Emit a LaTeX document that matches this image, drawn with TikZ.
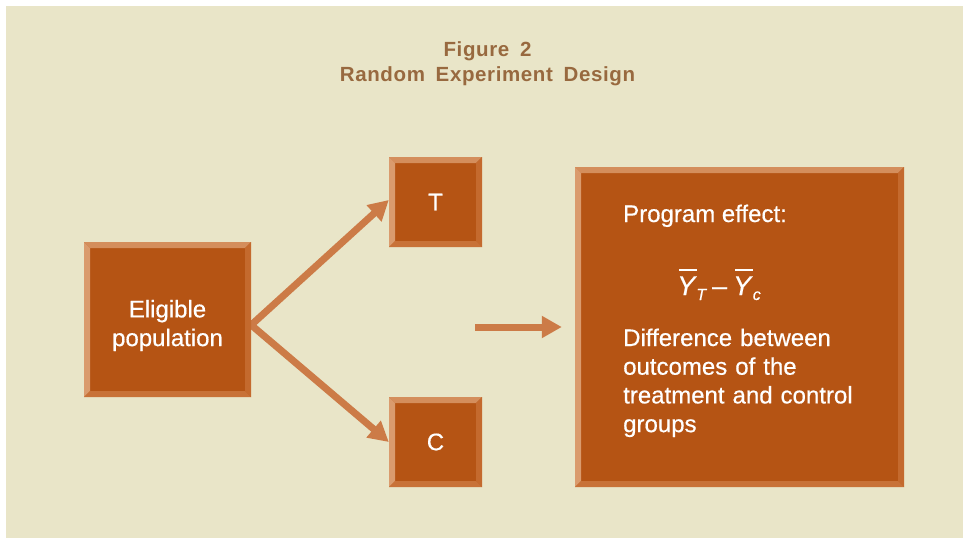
\documentclass[tikz,border=0pt]{standalone}
\usepackage{fontspec}
\setmainfont{Liberation Sans}
\newfontfamily\boxfont[FakeBold=0.5]{Liberation Sans}
\newfontfamily\titlefont[WordSpace=1.7,LetterSpace=3]{Liberation Sans}
\usetikzlibrary{arrows.meta,calc}
\definecolor{bgc}{HTML}{E9E5C8}
\definecolor{boxc}{HTML}{B55414}
\definecolor{bevtopc}{HTML}{D48E5C}
\definecolor{bevleftc}{HTML}{DA9B6D}
\definecolor{bevrightc}{HTML}{C46A2E}
\definecolor{bevbotc}{HTML}{C87238}
\definecolor{arrc}{HTML}{CC7B47}
\definecolor{titlec}{HTML}{98693F}
\pgfdeclarelayer{back}\pgfdeclarelayer{mid}
\pgfsetlayers{back,mid,main}
\newcommand\ovY{\makebox[0pt][l]{\hspace{2pt}\rule[24pt]{18pt}{1.6pt}}\textit{Y}}
\newcommand\subsc[1]{\raisebox{-5pt}{\fontsize{16}{16}\selectfont\itshape #1}}
\tikzset{
  bevbox/.style={fill=boxc, inner sep=0pt, text=white, align=center,
    font=\boxfont\fontsize{24}{29}\selectfont,
    path picture={
      \path (path picture bounding box.south west) coordinate (pa)
            (path picture bounding box.north east) coordinate (pb);
      \fill[bevtopc] (pa|-pb) -- (pb) -- ($(pb)+(-6pt,-6pt)$) -- ($(pa|-pb)+(6pt,-6pt)$) -- cycle;
      \fill[bevleftc] (pa|-pb) -- (pa) -- ($(pa)+(6pt,6pt)$) -- ($(pa|-pb)+(6pt,-6pt)$) -- cycle;
      \fill[bevrightc] (pb) -- (pb|-pa) -- ($(pb|-pa)+(-6pt,6pt)$) -- ($(pb)+(-6pt,-6pt)$) -- cycle;
      \fill[bevbotc] (pa) -- (pb|-pa) -- ($(pb|-pa)+(-6pt,6pt)$) -- ($(pa)+(6pt,6pt)$) -- cycle;
    }},
  txt/.style={text=white, inner sep=0pt, font=\boxfont\fontsize{24}{28.7}\selectfont},
  arr/.style={draw=arrc, line width=7pt, -{Triangle[length=20pt,width=21pt]}},
}
\begin{document}
\begin{tikzpicture}[x=1pt,y=-1pt]
\useasboundingbox (0,0) rectangle (963,538);
\begin{pgfonlayer}{back}
  \fill[white] (0,0) rectangle (963,538);
  \fill[bgc] (6,6) rectangle (963,538);
\end{pgfonlayer}

\node[font=\titlefont\bfseries\fontsize{20.5}{25}\selectfont, text=titlec, align=center, inner sep=0pt, anchor=base] (title) at (487.5,81.7) {Figure 2\\Random Experiment Design};

\node[bevbox, minimum width=167pt, minimum height=155pt] (elig) at (167.5,319.5) {};
\node[txt, align=center] (eligtxt) at ([yshift=-6pt]elig.center) {Eligible\\population};
\node[bevbox, minimum width=93pt, minimum height=90pt] (T) at (435.5,202) {T};
\node[bevbox, minimum width=93pt, minimum height=90pt] (C) at (435.5,442) {C};
\node[bevbox, minimum width=329pt, minimum height=320pt] (big) at (739.5,327) {};

\node[txt, anchor=base west] (eff) at (623,222) {Program effect:};
\node[txt, anchor=base west, font=\boxfont\fontsize{27}{30}\selectfont] (form) at (677,295) {\ovY\kern-0.5pt\subsc{T}\hspace{6pt}–\hspace{6pt}\ovY\subsc{c}};
\node[txt, anchor=base west, text width=280pt, align=left] (diff) at (623,346) {Difference between\\outcomes of the\\treatment and control\\groups};

\coordinate (fork) at ([yshift=-5.5pt]elig.east);
\coordinate (hs) at (475,327);
\coordinate (he) at ([xshift=-13pt]big.west);
\begin{pgfonlayer}{mid}
  \draw[arr] (fork) -- ([yshift=2pt]T.west);
  \draw[arr] (fork) -- (C.west);
  \draw[arr] (hs) -- (he);
\end{pgfonlayer}
\end{tikzpicture}
\end{document}
